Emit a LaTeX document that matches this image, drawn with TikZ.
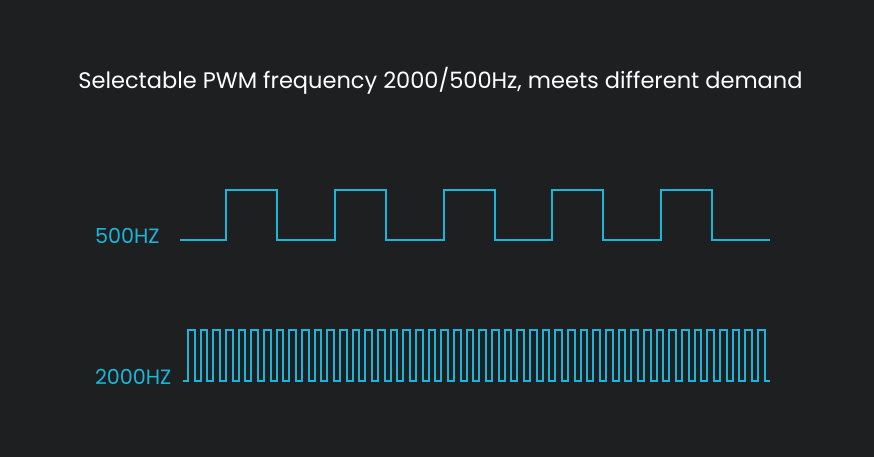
\documentclass[tikz,border=0pt]{standalone}
\usepackage{fontspec}
\setmainfont{Poppins}
\definecolor{bgdark}{HTML}{1E1F21}
\definecolor{wavecyan}{HTML}{1CB5D9}

\begin{document}
\begin{tikzpicture}[
                    x=1pt, y=-1pt,
                    every node/.style={
                        inner sep=0pt,
                        outer sep=0pt
                    },
                    wave/.style={
                        draw=wavecyan,
                        line width=2pt,
                        line join=miter
                    },
                    freqlabel/.style={
                        anchor=west,
                        text=wavecyan,
                        font=\fontsize{20.7}{24}\selectfont
                    }
                ]
                    \useasboundingbox (0,0) rectangle (874,457);
                    \fill[bgdark] (0,0) rectangle (874,457);

                    \node[text=white, font=\fontsize{22.5}{27}\selectfont] (title) at (440.5,81) {Selectable PWM frequency 2000/500Hz, meets different demand};

                    \node[freqlabel] (slow) at (95,236) {500HZ};
                    \node[freqlabel] (fast) at (95,377) {2000HZ};

                    % 500Hz wave
                    \draw[wave] (180,240) \foreach \i in {0,...,4}{
                        -- ({226+108.75*\i},240) -- ++(0,-50) -- ++(51,0) -- ++(0,50)
                    } -- (770,240);

                    % 2000Hz wave
                    \draw[wave] (183,381) \foreach \i in {0,...,45}{
                        -- ({188+12.67*\i},381) -- ++(0,-51) -- ++(6.5,0) -- ++(0,51)
                    } -- (770,381);
                \end{tikzpicture}
\end{document}
